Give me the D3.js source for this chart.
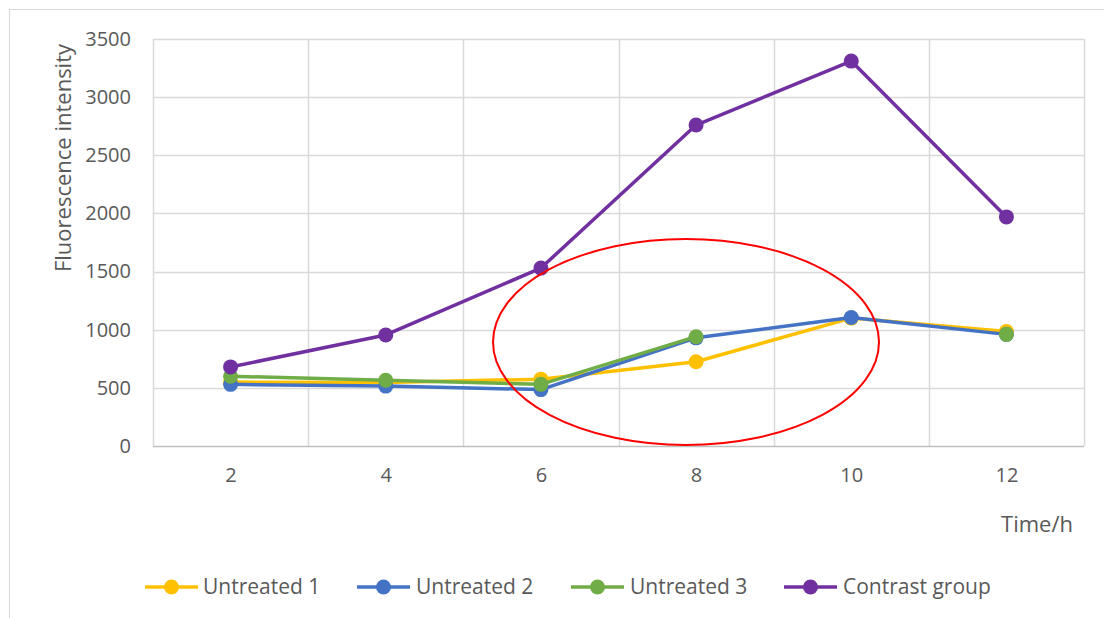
<!DOCTYPE html>
<html>
<head>
<meta charset="utf-8">
<script src="https://cdn.jsdelivr.net/npm/d3@7"></script>
<style>
  html, body { margin: 0; padding: 0; background: #fff; }
  svg { display: block; }
  text { font-family: "Open Sans", "Noto Sans", sans-serif; fill: #595959; }
</style>
</head>
<body>
<svg id="chart" width="1104" height="618"></svg>
<script>
// Sampling times (hours)
const hours = [2, 4, 6, 8, 10, 12];

// Fluorescence readings per group (null = no reading)
const untreated1 = [550, 545, 575, 725, 1100, 985];
const untreated2 = [530, 515, 485, 930, 1105, 960];
const untreated3 = [600, 565, 530, 940, null, 960];
const contrastGroup = [680, 955, 1530, 2760, 3310, 1970];

const yTicks = [0, 500, 1000, 1500, 2000, 2500, 3000, 3500];

const seriesNames = ["Untreated 1", "Untreated 2", "Untreated 3", "Contrast group"];
const seriesColors = ["#FFC000", "#4472C4", "#70AD47", "#7030A0"];
const seriesValues = [untreated1, untreated2, untreated3, contrastGroup];

const svg = d3.select("#chart");

// Outer chart frame
svg.append("rect")
  .attr("x", 9.5).attr("y", 9.5)
  .attr("width", 1110).attr("height", 620)
  .attr("fill", "#fff").attr("stroke", "#d9d9d9").attr("stroke-width", 1);

const plot = { left: 153, right: 1084, top: 39, bottom: 446 };

// Category band for each time point; grid lines sit on band edges
const xBand = d3.scaleBand()
  .domain(hours)
  .range([plot.left, plot.right])
  .paddingInner(0).paddingOuter(0);
const xPos = h => xBand(h) + xBand.bandwidth() / 2;

const y = d3.scaleLinear().domain([0, 3500]).range([plot.bottom, plot.top]);

// Horizontal grid lines
svg.append("g")
  .selectAll("line")
  .data(yTicks.filter(t => t > 0))
  .join("line")
  .attr("x1", plot.left).attr("x2", plot.right)
  .attr("y1", d => Math.round(y(d)) + 0.5).attr("y2", d => Math.round(y(d)) + 0.5)
  .attr("stroke", "#d9d9d9").attr("stroke-width", 1.5);

// Vertical grid lines at category boundaries
const edges = hours.map(h => xBand(h)).concat([plot.right]);
svg.append("g")
  .selectAll("line")
  .data(edges)
  .join("line")
  .attr("x1", d => Math.round(d) + 0.5).attr("x2", d => Math.round(d) + 0.5)
  .attr("y1", plot.top).attr("y2", plot.bottom)
  .attr("stroke", "#d9d9d9").attr("stroke-width", 1.5);

// Category axis line
svg.append("line")
  .attr("x1", plot.left).attr("x2", plot.right)
  .attr("y1", plot.bottom + 0.5).attr("y2", plot.bottom + 0.5)
  .attr("stroke", "#bfbfbf").attr("stroke-width", 1.5);

// Y tick labels
const yAxis = d3.axisLeft(y).tickValues(yTicks).tickFormat(d3.format("d"))
  .tickSize(0).tickPadding(22);
const gy = svg.append("g").attr("transform", `translate(${plot.left},0)`).call(yAxis);
gy.select(".domain").remove();
gy.selectAll("text").attr("font-size", 20).attr("fill", "#595959")
  .attr("font-family", "Open Sans, sans-serif");

// X tick labels
const xAxis = d3.axisBottom(d3.scalePoint().domain(hours).range([xPos(2), xPos(12)]))
  .tickSize(0).tickPadding(22);
const gx = svg.append("g").attr("transform", `translate(0,${plot.bottom})`).call(xAxis);
gx.select(".domain").remove();
gx.selectAll("text").attr("font-size", 20).attr("fill", "#595959")
  .attr("font-family", "Open Sans, sans-serif");

// Axis titles
svg.append("text")
  .attr("transform", "translate(71,158) rotate(-90)")
  .attr("text-anchor", "middle")
  .attr("font-size", 22)
  .text("Fluorescence intensity");

svg.append("text")
  .attr("x", 1037).attr("y", 532)
  .attr("text-anchor", "middle")
  .attr("font-size", 22)
  .text("Time/h");

// Series lines and markers
const line = d3.line()
  .defined(d => d.v !== null)
  .x(d => xPos(d.h))
  .y(d => y(d.v));

const series = seriesNames.map((name, i) => ({
  name,
  color: seriesColors[i],
  points: hours.map((h, j) => ({ h, v: seriesValues[i][j] }))
}));

const gSeries = svg.append("g");
series.forEach(s => {
  gSeries.append("path")
    .datum(s.points)
    .attr("d", line)
    .attr("fill", "none")
    .attr("stroke", s.color)
    .attr("stroke-width", 3.5)
    .attr("stroke-linejoin", "round")
    .attr("stroke-linecap", "round");
  gSeries.selectAll(null)
    .data(s.points.filter(p => p.v !== null))
    .join("circle")
    .attr("cx", d => xPos(d.h))
    .attr("cy", d => y(d.v))
    .attr("r", 7.5)
    .attr("fill", s.color);
});

// Highlight around the 6–10 h window
svg.append("ellipse")
  .attr("cx", 686).attr("cy", 342)
  .attr("rx", 193).attr("ry", 103)
  .attr("fill", "none")
  .attr("stroke", "#ff0000")
  .attr("stroke-width", 2);

// Legend
const legendItems = [
  { x: 145, tx: 203 },
  { x: 357, tx: 416 },
  { x: 571, tx: 630 },
  { x: 784, tx: 843 }
];
const legendY = 587;
const gl = svg.append("g");
series.forEach((s, i) => {
  const it = legendItems[i];
  gl.append("line")
    .attr("x1", it.x).attr("x2", it.x + 53)
    .attr("y1", legendY).attr("y2", legendY)
    .attr("stroke", s.color).attr("stroke-width", 3.5);
  gl.append("circle")
    .attr("cx", it.x + 26.5).attr("cy", legendY).attr("r", 7.5)
    .attr("fill", s.color);
  gl.append("text")
    .attr("x", it.tx).attr("y", legendY)
    .attr("dy", "0.35em")
    .attr("font-size", 21)
    .text(s.name);
});
</script>
</body>
</html>
